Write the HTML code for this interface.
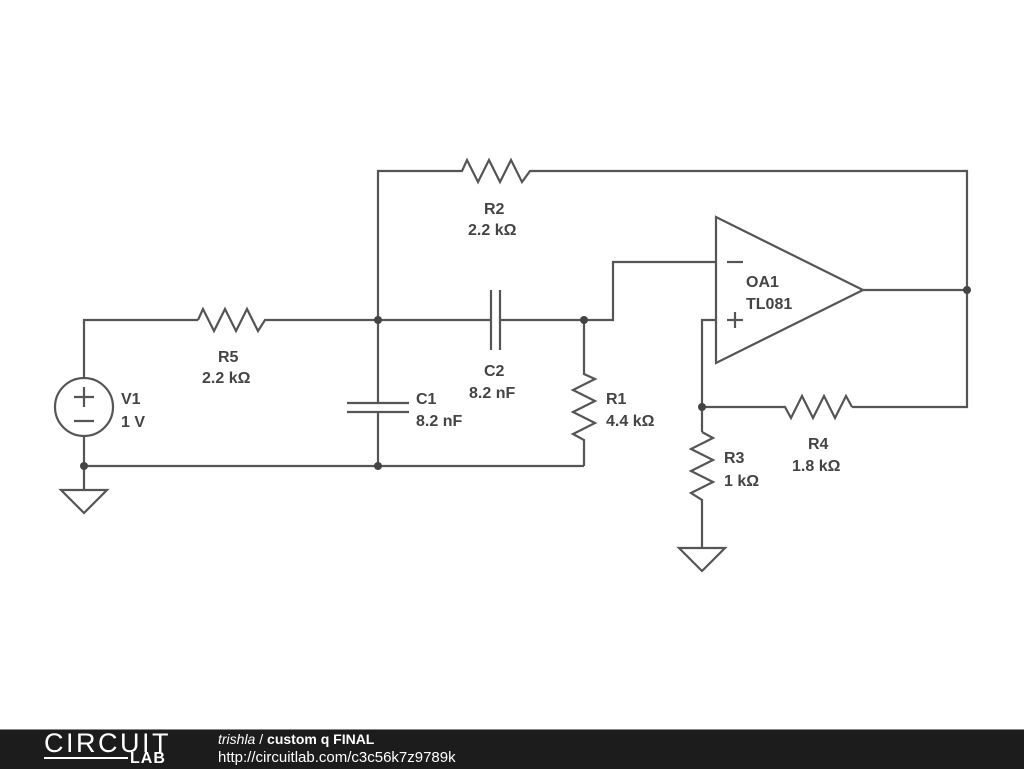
<!DOCTYPE html>
<html><head><style>
body{margin:0;width:1024px;height:768px;background:#fff;overflow:hidden;font-family:"Liberation Sans",sans-serif}
svg text{font-family:"Liberation Sans",sans-serif;font-weight:bold;font-size:16px;fill:#444}
</style></head><body>
<svg width="1024" height="768" style="position:absolute;left:0;top:0">
<g stroke="#555" stroke-width="2.2" fill="none">
<!-- V1 -->
<polyline points="84,378 84,320 198,320"/>
<circle cx="84" cy="407" r="29"/>
<line x1="74" y1="397" x2="94" y2="397"/><line x1="84" y1="387" x2="84" y2="407"/>
<line x1="74" y1="421" x2="94" y2="421"/>
<line x1="84" y1="436" x2="84" y2="490"/>
<polygon points="61,490 107,490 84,513"/>
<!-- R5 -->
<polyline points="198,320 203,309 214,331 225,309 236,331 247,309 258,331 265,320 378,320"/>
<!-- R2 -->
<polyline points="378,320 378,171 462,171 467,160 478,182 489,160 500,182 511,160 522,182 530,171 967,171 967,407 852,407"/>
<!-- R4 -->
<polyline points="852,407 846,396 835,418 824,396 813,418 802,396 791,418 785,407 702,407"/>
<!-- C2 -->
<polyline points="378,320 491,320"/>
<line x1="491" y1="290" x2="491" y2="350"/><line x1="500" y1="290" x2="500" y2="350"/>
<polyline points="500,320 613,320 613,262 716,262"/>
<!-- C1 -->
<line x1="378" y1="320" x2="378" y2="403"/>
<line x1="347" y1="403" x2="409" y2="403"/><line x1="347" y1="412" x2="409" y2="412"/>
<line x1="378" y1="412" x2="378" y2="466"/>
<line x1="84" y1="466" x2="584" y2="466"/>
<!-- R1 -->
<polyline points="584,320 584,374 595,379 573,390 595,401 573,412 595,423 573,434 584,440 584,466"/>
<!-- opamp -->
<polygon points="716,217 716,363 863,290"/>
<line x1="863" y1="290" x2="967" y2="290"/>
<polyline points="716,320 702,320 702,432"/>
<line x1="727" y1="262" x2="743" y2="262"/>
<line x1="727" y1="320" x2="743" y2="320"/><line x1="735" y1="312" x2="735" y2="328"/>
<!-- R3 -->
<polyline points="702,432 713,438 691,449 713,460 691,471 713,482 691,493 702,500 702,548"/>
<polygon points="679,548 725,548 702,571"/>
</g>
<g fill="#444">
<circle cx="378" cy="320" r="4"/><circle cx="584" cy="320" r="4"/><circle cx="84" cy="466" r="4"/>
<circle cx="378" cy="466" r="4"/><circle cx="967" cy="290" r="4"/><circle cx="702" cy="407" r="4"/>
</g>
<text x="484" y="214">R2</text><text x="468" y="235">2.2 kΩ</text>
<text x="218" y="362">R5</text><text x="202" y="383">2.2 kΩ</text>
<text x="121" y="404">V1</text><text x="121" y="427">1 V</text>
<text x="484" y="376">C2</text><text x="469" y="398">8.2 nF</text>
<text x="416" y="404">C1</text><text x="416" y="426">8.2 nF</text>
<text x="606" y="404">R1</text><text x="606" y="426">4.4 kΩ</text>
<text x="746" y="287">OA1</text><text x="746" y="309">TL081</text>
<text x="724" y="463">R3</text><text x="724" y="486">1 kΩ</text>
<text x="808" y="449">R4</text><text x="792" y="471">1.8 kΩ</text>
</svg>
<div style="position:absolute;left:0;top:729px;width:1024px;height:39px;background:#1c1c1c;border-top:1px solid #888"></div>
<div style="position:absolute;left:44px;top:730px;color:#fff;font-size:27px;font-weight:300;letter-spacing:2.5px;line-height:27px">CIRCUIT</div>
<div style="position:absolute;left:44px;top:757px;width:84px;height:2px;background:#fff"></div>
<div style="position:absolute;left:130px;top:751px;color:#fff;font-size:16px;font-weight:bold;line-height:16px;letter-spacing:1px">LAB</div>
<div style="position:absolute;left:218px;top:731px;color:#fff;font-size:14px;line-height:17px"><i>trishla</i> / <b>custom q FINAL</b></div>
<div style="position:absolute;left:218px;top:749px;color:#fff;font-size:15px;line-height:18px">http://circuitlab.com/c3c56k7z9789k</div>
</body></html>
